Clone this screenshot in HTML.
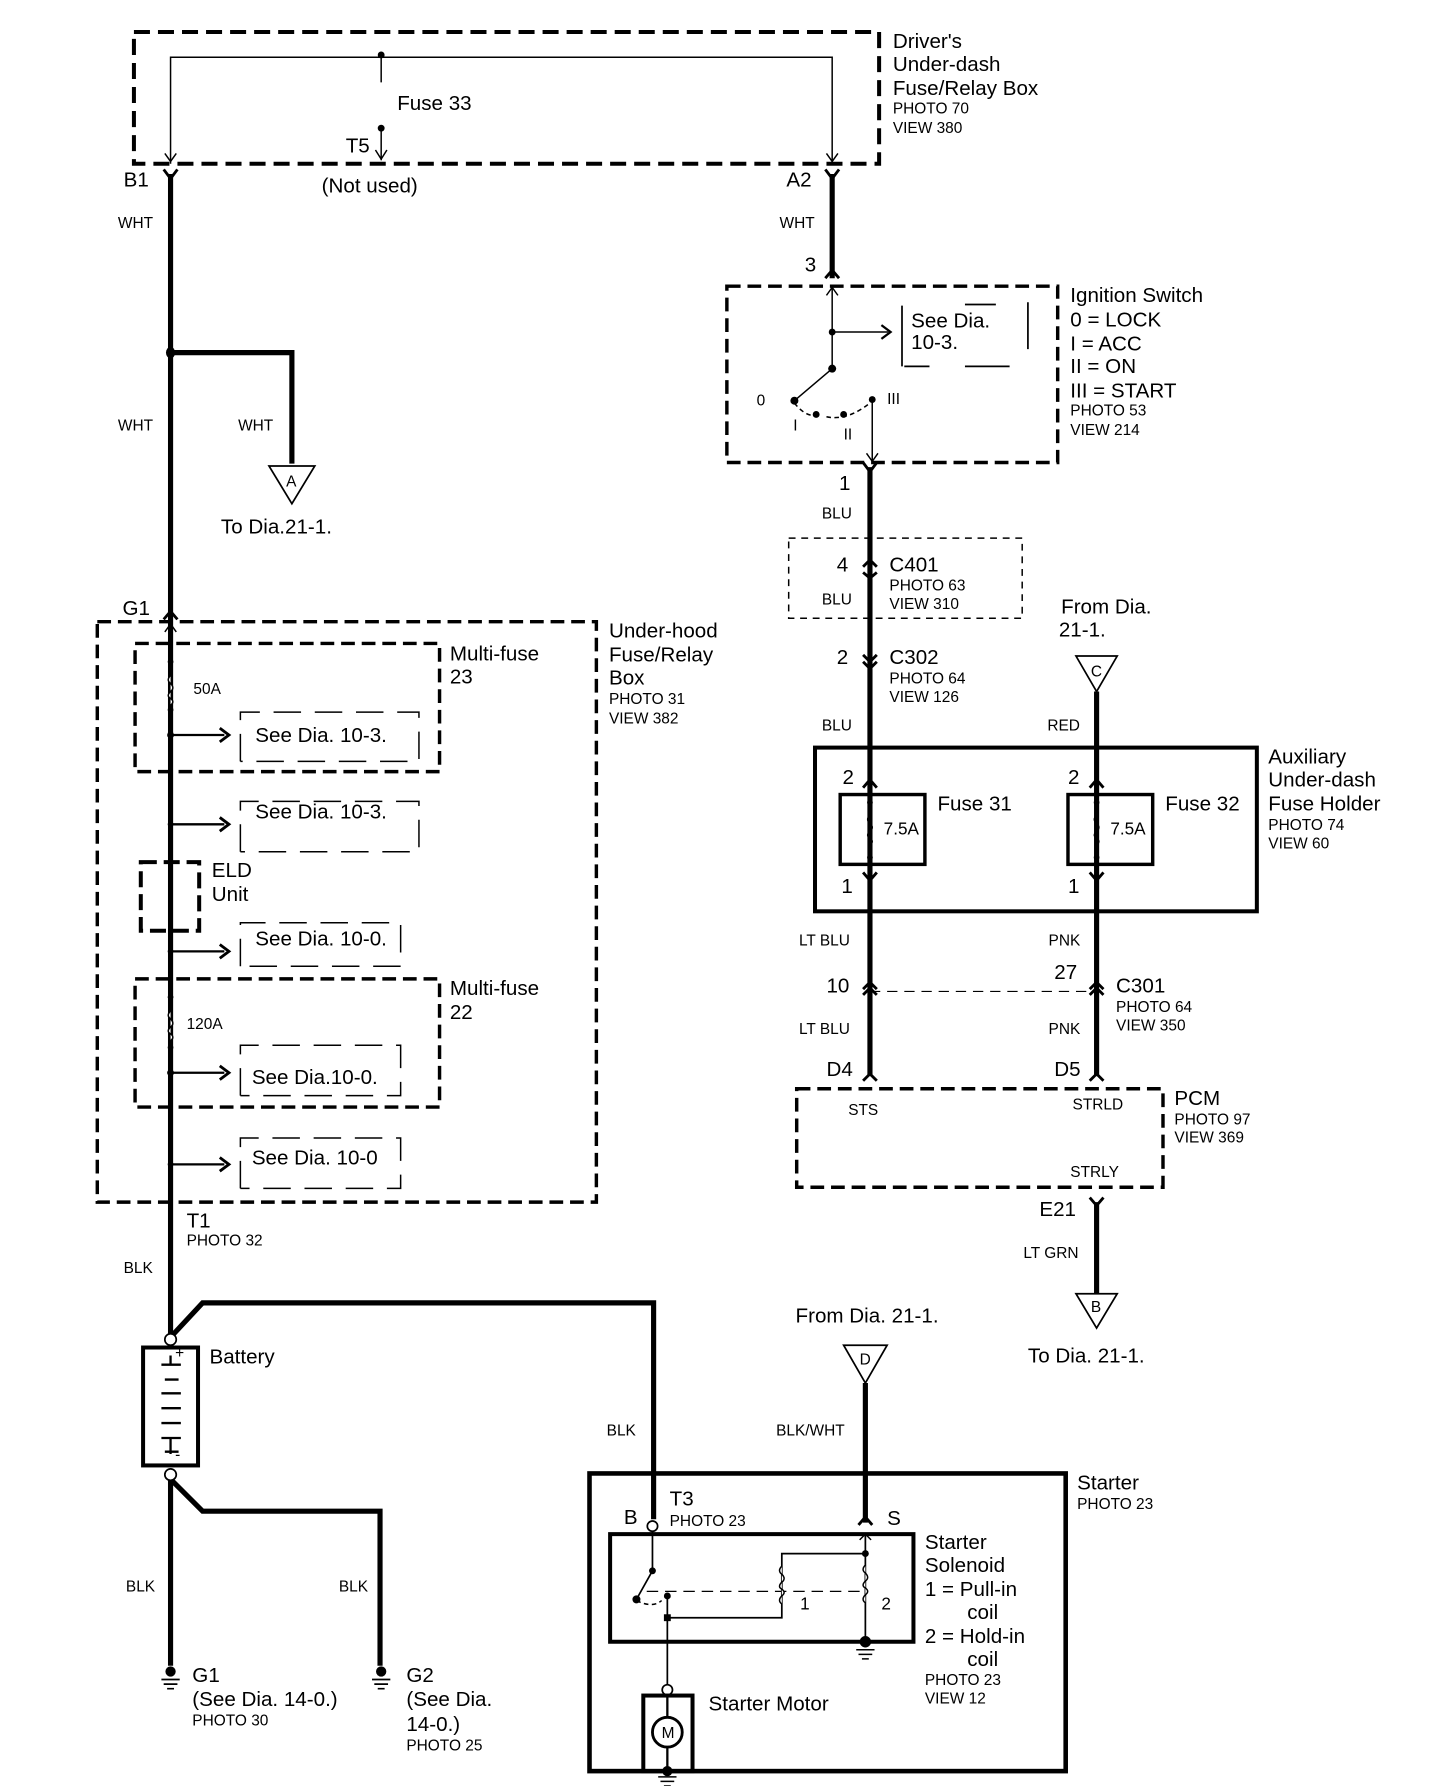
<!DOCTYPE html>
<html><head><meta charset="utf-8"><style>
html,body{margin:0;padding:0;background:#fff;}
svg{display:block}
text{font-family:"Liberation Sans",sans-serif;fill:#000}
.b{font-size:18px}.s{font-size:13.5px}.m{font-size:15px}
</style></head><body>
<svg width="1440" height="1786" viewBox="0 0 1258 1560" preserveAspectRatio="none" xmlns="http://www.w3.org/2000/svg">
<g fill="none" stroke="#000">
<!-- Driver's box -->
<rect x="117" y="28" width="651" height="115" stroke-width="3.5" stroke-dasharray="14,7"/>
<path d="M149 143V50H727V143M333 50V72M333 112V140" stroke-width="1.3"/>
<path d="M144 134l5 7 5-7M722 134l5 7 5-7M328 131l5 8 5-8" stroke-width="1.3"/>
<!-- main left wire -->
<path d="M149 152V1168" stroke-width="4.5"/>
<path d="M149 308H255V405" stroke-width="4.5"/>
<path d="M727 152V243" stroke-width="4.5"/>
<path d="M143 148l6 8 6-8M721 148l6 8 6-8M721 243l6-7 6 7M143 541l6-7 6 7" stroke-width="2.5"/>
<polygon points="235,407 275,407 255,440" stroke-width="1.5"/>
<!-- ignition -->
<rect x="635" y="250" width="289" height="154" stroke-width="3" stroke-dasharray="12,6"/>
<path d="M727 252V322M727 290H776M727 322L694 350M762 349V402" stroke-width="1.3"/>
<path d="M770 284l8 6-8 6" stroke-width="2"/>
<path d="M694 352 Q705 366 716 362 M722 364 Q740 368 760 352" stroke-width="1.3" stroke-dasharray="4,3"/>
<path d="M722 258l5-7 5 7M757 396l5 7 5-7" stroke-width="1.3"/>
<path d="M788 267V320M843 266H870M898 264V305M790 320H812M843 320H882" stroke-width="1.5"/>
<!-- blue wire -->
<path d="M760 408V940" stroke-width="4.5"/>
<path d="M754 404l6 8 6-8" stroke-width="2.5"/>
<rect x="689" y="470" width="204" height="70" stroke-width="1.3" stroke-dasharray="6,5"/>
<path d="M754 495l6-6 6 6M754 500l6 5 6-5M754 572l6 6 6-6M754 578l6 6 6-6" stroke-width="2.5"/>
<!-- red wire -->
<polygon points="940,573 976,573 958,604" stroke-width="1.5"/>
<path d="M958 604V940" stroke-width="4.5"/>
<!-- aux box -->
<rect x="712" y="653" width="386" height="143" stroke-width="3.5"/>
<rect x="734" y="694" width="74" height="61" stroke-width="3"/>
<rect x="933" y="694" width="74" height="61" stroke-width="3"/>
<path d="M754 688l6-7 6 7M952 688l6-7 6 7M754 762l6 7 6-7M952 762l6 7 6-7" stroke-width="2.5"/>
<path d="M760 700V712M760 738V752M958 700V712M958 738V752" stroke-width="1.3"/>
<path d="M760 712q-4 4 0 7q4 4 0 7q-4 4 0 6q4 3 0 6M958 712q-4 4 0 7q4 4 0 7q-4 4 0 6q4 3 0 6" stroke-width="1.3"/>
<path d="M760 866H958" stroke-width="1" stroke-dasharray="9,6"/>
<path d="M754 864l6-6 6 6M754 869l6-6 6 6M952 864l6-6 6 6M952 869l6-6 6 6M754 944l6-6 6 6M952 944l6-6 6 6" stroke-width="2.5"/>
<!-- PCM -->
<rect x="696" y="951" width="320" height="86" stroke-width="3" stroke-dasharray="12,6"/>
<path d="M958 1050V1130" stroke-width="4.5"/>
<path d="M952 1046l6 7 6-7" stroke-width="2.5"/>
<polygon points="940,1130 976,1130 958,1160" stroke-width="1.5"/>
<!-- underhood -->
<rect x="85" y="543" width="436" height="507" stroke-width="3" stroke-dasharray="12,6"/>
<path d="M149 545V1050" stroke-width="1.3"/>
<path d="M144 552l5-7 5 7" stroke-width="1.3"/>
<rect x="118" y="562" width="266" height="112" stroke-width="3" stroke-dasharray="12,6"/>
<rect x="118" y="855" width="266" height="112" stroke-width="3" stroke-dasharray="12,6"/>
<rect x="123" y="753" width="51" height="60" stroke-width="3.5" stroke-dasharray="14,6"/>
<path d="M149 590q-4 4 0 7q4 4 0 7q-4 4 0 6q4 3 0 6M149 883q-4 4 0 7q4 4 0 7q-4 4 0 6q4 3 0 6" stroke-width="1.3" fill="#fff"/>
<path d="M149 642H196M149 720H196M149 831H196M149 937H196M149 1017H196" stroke-width="2"/>
<path d="M192 636l8 6-8 6M192 714l8 6-8 6M192 825l8 6-8 6M192 931l8 6-8 6M192 1011l8 6-8 6" stroke-width="2.5"/>
<g stroke-width="1.3" stroke-dasharray="24,12">
<path d="M210 665V622H366V665H210"/><path d="M210 744V700H366V744H210"/><path d="M210 844V806H350V844H210"/>
<path d="M210 957V913H350V957H210"/><path d="M210 1038V994H350V1038H210"/>
</g>
<!-- lower left -->
<path d="M149 1055V1168" stroke-width="1.5"/>
<path d="M149 1168L177 1138H571V1327" stroke-width="4.5"/>
<rect x="125" y="1177" width="48" height="103" stroke-width="3.5"/>
<path d="M141 1192H158M144 1205H156M141 1217H158M141 1230H158M141 1243H158M141 1256H158M144 1268H156M149 1184V1193M149 1256V1270" stroke-width="2"/>
<path d="M149 1292V1455M149 1292L177 1320H332V1455" stroke-width="4.5"/>
<circle cx="149" cy="1170" r="5" fill="#fff" stroke-width="1.5"/>
<circle cx="149" cy="1288" r="5" fill="#fff" stroke-width="1.5"/>
<path d="M141 1467H157M143 1471H155M146 1475H152M325 1467H341M327 1471H339M330 1475H336" stroke-width="1.5"/>
<!-- starter -->
<polygon points="737,1175 775,1175 756,1208" stroke-width="1.5"/>
<path d="M756 1208V1330" stroke-width="4.5"/>
<path d="M750 1332l6-7 6 7" stroke-width="2.5"/>
<rect x="515" y="1287" width="416" height="260" stroke-width="4"/>
<rect x="533" y="1340" width="265" height="94" stroke-width="3.5"/>
<circle cx="570" cy="1333" r="4.5" fill="#fff" stroke-width="1.5"/>
<path d="M570 1338V1372L556 1397M583 1392V1474M583 1413H683V1357H756M756 1340V1434" stroke-width="1.5"/>
<path d="M556 1398Q570 1405 578 1398" stroke-width="1.3" stroke-dasharray="4,3"/>
<path d="M565 1390H755" stroke-width="1" stroke-dasharray="10,6"/>
<path d="M683 1368q-4 4 0 7q4 4 0 7q-4 4 0 6q4 3 0 6q-4 4 0 7M756 1367q-4 4 0 7q4 4 0 7q-4 4 0 6q4 3 0 6q-4 4 0 7" stroke-width="1.3" fill="#fff"/>
<path d="M751 1345l5-5 5 5M748 1441H764M750 1445H762M753 1449H759" stroke-width="1.3"/>
<circle cx="583" cy="1476" r="4.5" fill="#fff" stroke-width="1.5"/>
<rect x="562" y="1481" width="43" height="66" stroke-width="3.5"/>
<path d="M583 1481V1547" stroke-width="2"/>
<circle cx="583" cy="1513" r="13" fill="#fff" stroke-width="2.5"/>
<path d="M575 1552H591M577 1556H589M580 1560H586" stroke-width="1.3"/>
</g>
<g fill="#000">
<circle cx="333" cy="48" r="3"/><circle cx="333" cy="112" r="3"/>
<ellipse cx="149" cy="308" rx="4" ry="5"/>
<circle cx="727" cy="290" r="3"/><circle cx="727" cy="322" r="3.5"/><circle cx="694" cy="350" r="3.5"/><circle cx="713" cy="362" r="3"/><circle cx="737" cy="362" r="3"/><circle cx="762" cy="349" r="3"/>
<circle cx="149" cy="578" r="2.5"/><circle cx="149" cy="620" r="2.5"/><circle cx="149" cy="642" r="3"/><circle cx="149" cy="720" r="2.5"/><circle cx="149" cy="831" r="2.5"/>
<circle cx="149" cy="871" r="2.5"/><circle cx="149" cy="915" r="2.5"/><circle cx="149" cy="937" r="3"/><circle cx="149" cy="1017" r="2.5"/>
<circle cx="149" cy="1460" r="4.5"/><circle cx="333" cy="1460" r="4.5"/>
<circle cx="570" cy="1372" r="3"/><circle cx="556" cy="1397" r="3.5"/><circle cx="583" cy="1394" r="3"/><rect x="580" y="1410" width="6" height="6"/><circle cx="756" cy="1357" r="3"/><circle cx="756" cy="1434" r="5"/><circle cx="583" cy="1547" r="4.5"/>
<circle cx="760" cy="701" r="2.5"/><circle cx="760" cy="749" r="2.5"/><circle cx="958" cy="701" r="2.5"/><circle cx="958" cy="749" r="2.5"/>
</g>
<!-- text -->
<text class="b" x="780" y="42">Driver's</text><text class="b" x="780" y="62">Under-dash</text><text class="b" x="780" y="83">Fuse/Relay Box</text>
<text class="s" x="780" y="99">PHOTO 70</text><text class="s" x="780" y="116">VIEW 380</text>
<text class="b" x="347" y="96">Fuse 33</text><text class="b" x="302" y="133">T5</text><text class="b" x="281" y="168">(Not used)</text>
<text class="b" x="108" y="163">B1</text><text class="b" x="687" y="163">A2</text>
<text class="s" x="103" y="199">WHT</text><text class="s" x="681" y="199">WHT</text><text class="s" x="103" y="376">WHT</text><text class="s" x="208" y="376">WHT</text>
<text class="s" x="250" y="425">A</text><text class="b" x="193" y="466">To Dia.21-1.</text>
<text class="b" x="703" y="237">3</text>
<text class="b" x="796" y="286">See Dia.</text><text class="b" x="796" y="305">10-3.</text>
<text class="s" x="661" y="354">0</text><text class="s" x="693" y="376">I</text><text class="s" x="737" y="384">II</text><text class="s" x="775" y="353">III</text>
<text class="b" x="935" y="264">Ignition Switch</text><text class="b" x="935" y="285">0  = LOCK</text><text class="b" x="935" y="306">I   = ACC</text><text class="b" x="935" y="326">II  = ON</text><text class="b" x="935" y="347">III = START</text>
<text class="s" x="935" y="363">PHOTO 53</text><text class="s" x="935" y="380">VIEW 214</text>
<text class="b" x="733" y="428">1</text><text class="s" x="718" y="453">BLU</text>
<text class="b" x="731" y="499">4</text><text class="b" x="777" y="499">C401</text><text class="s" x="777" y="516">PHOTO 63</text><text class="s" x="777" y="532">VIEW 310</text><text class="s" x="718" y="528">BLU</text>
<text class="b" x="731" y="580">2</text><text class="b" x="777" y="580">C302</text><text class="s" x="777" y="597">PHOTO 64</text><text class="s" x="777" y="613">VIEW 126</text><text class="s" x="718" y="638">BLU</text>
<text class="b" x="927" y="536">From Dia.</text><text class="b" x="925" y="556">21-1.</text>
<text class="s" x="953" y="591">C</text><text class="s" x="915" y="638">RED</text>
<text class="b" x="736" y="685">2</text><text class="b" x="933" y="685">2</text>
<text class="b" x="819" y="708">Fuse 31</text><text class="b" x="1018" y="708">Fuse 32</text>
<text class="m" x="772" y="729">7.5A</text><text class="m" x="970" y="729">7.5A</text>
<text class="b" x="735" y="780">1</text><text class="b" x="933" y="780">1</text>
<text class="b" x="1108" y="667">Auxiliary</text><text class="b" x="1108" y="687">Under-dash</text><text class="b" x="1108" y="708">Fuse Holder</text>
<text class="s" x="1108" y="725">PHOTO 74</text><text class="s" x="1108" y="741">VIEW 60</text>
<text class="s" x="698" y="826">LT BLU</text><text class="s" x="916" y="826">PNK</text>
<text class="b" x="722" y="867">10</text><text class="b" x="921" y="855">27</text><text class="b" x="975" y="867">C301</text><text class="s" x="975" y="884">PHOTO 64</text><text class="s" x="975" y="900">VIEW 350</text>
<text class="s" x="698" y="903">LT BLU</text><text class="s" x="916" y="903">PNK</text>
<text class="b" x="722" y="940">D4</text><text class="b" x="921" y="940">D5</text>
<text class="s" x="741" y="974">STS</text><text class="s" x="937" y="969">STRLD</text><text class="s" x="935" y="1028">STRLY</text>
<text class="b" x="1026" y="965">PCM</text><text class="s" x="1026" y="982">PHOTO 97</text><text class="s" x="1026" y="998">VIEW 369</text>
<text class="b" x="908" y="1062">E21</text><text class="s" x="894" y="1099">LT GRN</text><text class="s" x="953" y="1146">B</text><text class="b" x="898" y="1190">To Dia. 21-1.</text>
<text class="b" x="107" y="537">G1</text>
<text class="b" x="532" y="557">Under-hood</text><text class="b" x="532" y="578">Fuse/Relay</text><text class="b" x="532" y="598">Box</text><text class="s" x="532" y="615">PHOTO 31</text><text class="s" x="532" y="632">VIEW 382</text>
<text class="b" x="393" y="577">Multi-fuse</text><text class="b" x="393" y="597">23</text>
<text class="b" x="393" y="869">Multi-fuse</text><text class="b" x="393" y="890">22</text>
<text class="s" x="169" y="606">50A</text><text class="s" x="163" y="899">120A</text>
<text class="b" x="223" y="648">See Dia. 10-3.</text><text class="b" x="223" y="715">See Dia. 10-3.</text>
<text class="b" x="185" y="766">ELD</text><text class="b" x="185" y="787">Unit</text>
<text class="b" x="223" y="826">See Dia. 10-0.</text><text class="b" x="220" y="947">See Dia.10-0.</text><text class="b" x="220" y="1017">See Dia.  10-0</text>
<text class="b" x="163" y="1072">T1</text><text class="s" x="163" y="1088">PHOTO 32</text><text class="s" x="108" y="1112">BLK</text>
<text class="b" x="183" y="1191">Battery</text><text class="s" x="153" y="1186">+</text><text class="s" x="153" y="1275">-</text>
<text class="s" x="110" y="1390">BLK</text><text class="s" x="296" y="1390">BLK</text>
<text class="b" x="168" y="1469">G1</text><text class="b" x="168" y="1490">(See Dia. 14-0.)</text><text class="s" x="168" y="1507">PHOTO 30</text>
<text class="b" x="355" y="1469">G2</text><text class="b" x="355" y="1490">(See Dia.</text><text class="b" x="355" y="1512">14-0.)</text><text class="s" x="355" y="1529">PHOTO 25</text>
<text class="b" x="695" y="1155">From Dia. 21-1.</text><text class="s" x="751" y="1192">D</text>
<text class="s" x="530" y="1254">BLK</text><text class="s" x="678" y="1254">BLK/WHT</text>
<text class="b" x="941" y="1301">Starter</text><text class="s" x="941" y="1318">PHOTO 23</text>
<text class="b" x="545" y="1331">B</text><text class="b" x="585" y="1315">T3</text><text class="s" x="585" y="1333">PHOTO 23</text><text class="b" x="775" y="1332">S</text>
<text class="b" x="808" y="1353">Starter</text><text class="b" x="808" y="1373">Solenoid</text><text class="b" x="808" y="1394">1 =  Pull-in</text><text class="b" x="845" y="1414">coil</text><text class="b" x="808" y="1435">2 =  Hold-in</text><text class="b" x="845" y="1455">coil</text>
<text class="s" x="808" y="1472">PHOTO 23</text><text class="s" x="808" y="1488">VIEW 12</text>
<text class="m" x="699" y="1406">1</text><text class="m" x="770" y="1406">2</text>
<text class="b" x="619" y="1494">Starter Motor</text><text class="s" x="578" y="1518">M</text>
</svg>
</body></html>
